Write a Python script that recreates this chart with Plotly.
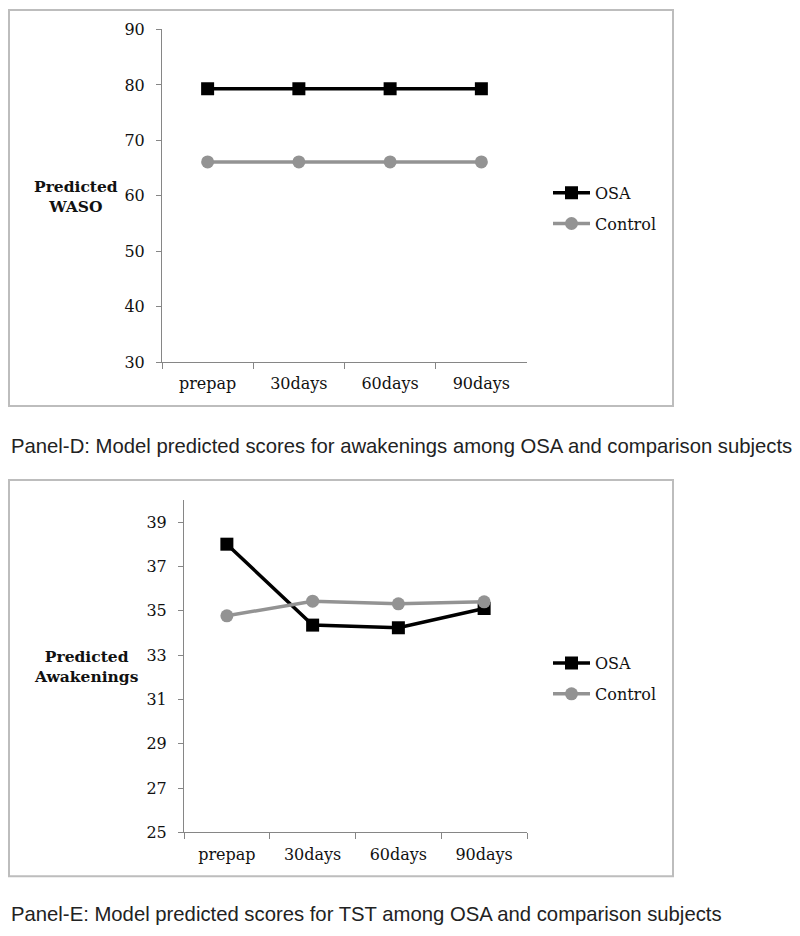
import plotly.graph_objects as go

categories = ["prepap", "30days", "60days", "90days"]
waso_osa = [79.3, 79.3, 79.3, 79.3]
waso_control = [66.1, 66.1, 66.1, 66.1]
awk_osa = [38.0, 34.35, 34.23, 35.1]
awk_control = [34.77, 35.43, 35.31, 35.4]
waso_ticks = [30, 40, 50, 60, 70, 80, 90]
awk_ticks = [25, 27, 29, 31, 33, 35, 37, 39]

# compensation for the capture: observed y_screen ~= 8.5 + 0.981 * y_figure
OFF, SC = 8.5, 0.981
W, H = 800, 936
def px(x): return x / W
def py(y): return 1 - ((y - OFF) / SC) / H

OSA_C = "#000000"
CTL_C = "#939393"
SERIF = "DejaVu Serif"

fig = go.Figure()
def add(xs, ys, name, color, sym, xa, ya, leg, grp):
    fig.add_trace(go.Scatter(x=xs, y=ys, name=name, mode="lines+markers",
                             line=dict(color=color, width=3.5),
                             marker=dict(symbol=sym, size=13, color=color),
                             xaxis=xa, yaxis=ya, legend=leg, legendgroup=grp))

add(categories, waso_osa, "OSA", OSA_C, "square", "x", "y", "legend", "a")
add(categories, waso_control, "Control", CTL_C, "circle", "x", "y", "legend", "b")
add(categories, awk_osa, "OSA", OSA_C, "square", "x2", "y2", "legend2", "c")
add(categories, awk_control, "Control", CTL_C, "circle", "x2", "y2", "legend2", "d")

axis_font = dict(family=SERIF, size=16, color="#111")
common_x = dict(type="category", range=[-0.5, 3.5], showline=True, linecolor="#868686", linewidth=1,
                ticks="outside", tickson="boundaries", ticklen=6, tickcolor="#868686",
                showgrid=False, zeroline=False, tickfont=axis_font, ticklabelstandoff=7)
common_y = dict(showline=True, linecolor="#868686", linewidth=1, ticks="outside", ticklen=5,
                tickcolor="#868686", showgrid=False, zeroline=False, tickfont=axis_font,
                ticklabelstandoff=8)

legend_common = dict(font=dict(family=SERIF, size=16, color="#111"), bgcolor="rgba(0,0,0,0)",
                     tracegroupgap=7, xanchor="left", yanchor="top", itemwidth=37)

BOX = "#bdbdbd"
fig.update_layout(
    width=W, height=H, margin=dict(l=0, r=0, t=0, b=0),
    paper_bgcolor="white", plot_bgcolor="white", showlegend=True,
    xaxis=dict(domain=[px(162), px(527)], anchor="y", **common_x),
    yaxis=dict(domain=[py(362), py(29)], anchor="x", range=[30, 90], tickvals=waso_ticks, **common_y),
    xaxis2=dict(domain=[px(184), px(527)], anchor="y2", **common_x),
    yaxis2=dict(domain=[py(833), py(500)], anchor="x2", range=[25, 40], tickvals=awk_ticks, **common_y),
    legend=dict(x=px(548), y=py(175.5), **legend_common),
    legend2=dict(x=px(548), y=py(646.5), **legend_common),
    shapes=[
        dict(type="rect", xref="paper", yref="paper", x0=px(9), x1=px(673), y0=py(406), y1=py(9.5),
             line=dict(color=BOX, width=2)),
        dict(type="rect", xref="paper", yref="paper", x0=px(9), x1=px(673), y0=py(877), y1=py(480),
             line=dict(color=BOX, width=2)),
    ],
    annotations=[
        dict(text="<b>Predicted<br>WASO</b>", xref="paper", yref="paper", x=px(76), y=py(196),
             xanchor="center", yanchor="middle",
             showarrow=False, font=dict(family=SERIF, size=15.5, color="#111"), align="center"),
        dict(text="<b>Predicted<br>Awakenings</b>", xref="paper", yref="paper", x=px(86), y=py(667),
             xanchor="center", yanchor="middle",
             showarrow=False, font=dict(family=SERIF, size=15.5, color="#111"), align="center"),
        dict(text="Panel-D: Model predicted scores for awakenings among OSA and comparison subjects",
             xref="paper", yref="paper", x=px(9), y=py(446), xanchor="left", yanchor="middle",
             showarrow=False, font=dict(family="Liberation Sans", size=20.3, color="#222")),
        dict(text="Panel-E: Model predicted scores for TST among OSA and comparison subjects",
             xref="paper", yref="paper", x=px(9), y=py(915), xanchor="left", yanchor="middle",
             showarrow=False, font=dict(family="Liberation Sans", size=20.3, color="#222")),
    ],
)

fig.write_html("out.html", config={"displayModeBar": False},
               post_script="document.body.style.margin='0';document.body.style.overflow='hidden';")
